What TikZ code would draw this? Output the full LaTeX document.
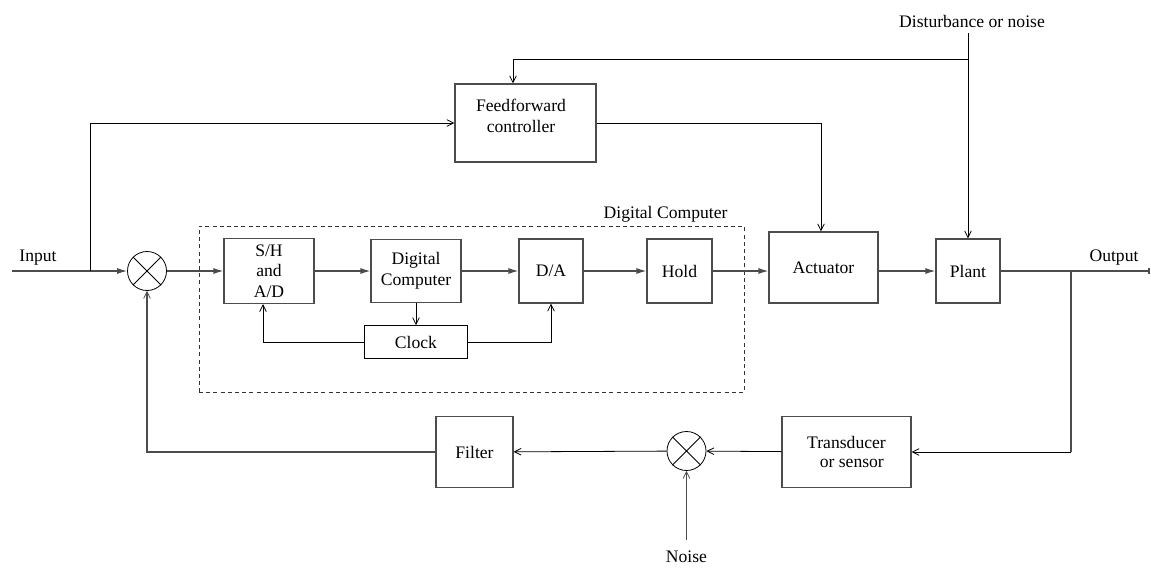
\documentclass[tikz,border=0pt]{standalone}
\usepackage{fontspec}
\setmainfont{Liberation Serif}[Ligatures=TeX]
\newfontfamily\timesfont{Liberation Serif}
\usetikzlibrary{arrows.meta,calc}
\begin{document}
\begin{tikzpicture}[x=0.75pt,y=-0.75pt,
  font=\timesfont\fontsize{13.2}{15.5}\selectfont,
  box/.style={draw=black!70,line width=0.9pt,align=center,inner sep=0pt},
  thinbox/.style={draw=black,line width=0.6pt,align=center,inner sep=0pt},
  main/.style={draw=black!70,line width=0.9pt},
  thin/.style={draw=black,line width=0.6pt},
  fa/.style={-{Latex[length=7.5pt,width=4.5pt]}},
  oa/.style={-{Straight Barb[length=5pt,width=5pt,line width=0.6pt]}},
  sumnode/.style={circle,draw=black,line width=0.6pt,minimum size=39*0.75pt,inner sep=0pt},
  lbl/.style={inner sep=1pt},
]
\useasboundingbox (0,0) rectangle (1151,568);

% dashed digital computer region
\node[draw=black!80,line width=0.7pt,dash pattern=on 3pt off 2.4pt,minimum width=545*0.75pt,minimum height=166*0.75pt,inner sep=0pt] (dcbox) at (471.5,309) {};
\node[lbl,anchor=east] (dclab) at (729,214) {Digital Computer};

% blocks
\node[box,minimum width=90*0.75pt,minimum height=65*0.75pt] (sh) at (269,271) {S/H\\and\\A/D};
\node[box,minimum width=90*0.75pt,minimum height=63*0.75pt] (dc) at (416,271) {Digital\\Computer};
\node[box,minimum width=64*0.75pt,minimum height=64*0.75pt] (da) at (551,271) {D/A};
\node[box,minimum width=65*0.75pt,minimum height=64*0.75pt] (hold) at (679.5,271) {Hold};
\node[thinbox,minimum width=103*0.75pt,minimum height=33*0.75pt] (clock) at (416,342) {Clock};
\node[box,minimum width=109*0.75pt,minimum height=71*0.75pt] (act) at (823.5,267.5) {Actuator};
\node[box,minimum width=64*0.75pt,minimum height=64*0.75pt] (plant) at (968,271) {Plant};
\node[box,minimum width=141*0.75pt,minimum height=78*0.75pt] (ff) at (525.5,123) {};
\node[lbl,align=center] (fft) at (521,116) {Feedforward\\controller};
\node[box,minimum width=77*0.75pt,minimum height=71*0.75pt] (filt) at (474.5,452) {Filter};
\node[box,minimum width=129*0.75pt,minimum height=71*0.75pt] (trans) at (846.5,452) {Transducer\\[-1pt]\hspace*{8pt}or sensor};

% summing junctions
\node[sumnode] (s1) at (147,271) {};
\draw[thin] (s1.north west) -- (s1.south east) (s1.north east) -- (s1.south west);
\node[sumnode] (s2) at (686.5,451) {};
\draw[thin] (s2.north west) -- (s2.south east) (s2.north east) -- (s2.south west);

% text labels
\node[lbl] (in) at (38,258) {Input};
\node[lbl] (dist) at (972,21) {Disturbance or noise};
\node[lbl] (out) at (1114,258) {Output};
\node[lbl] (noise) at (686.5,557) {Noise};

% helper coordinates
\coordinate (inS) at (12,271);
\coordinate (br) at (90,271);
\coordinate (dtop) at (968,33);
\coordinate (dj) at (968,59);
\coordinate (oj) at (1071,271);
\coordinate (oend) at (1150,271);
\coordinate (ns) at (686.5,540);

% forward path
\draw[main,fa] (inS) -- (s1);
\draw[main,fa] (s1) -- (sh);
\draw[main,fa] (sh) -- (dc);
\draw[main,fa] (dc) -- (da);
\draw[main,fa] (da) -- (hold);
\draw[main,fa] (hold) -- (hold -| act.west);
\draw[main,fa] (act.east |- hold) -- (plant);
\draw[main,-{Bar[width=4pt,line width=1.2pt]}] (plant) -- (oend);

% feedforward
\draw[thin,oa] (br) |- (ff.west);
\draw[thin] (dtop) -- (dj);
\draw[thin,oa] (dj) -| ($(ff.north)+(-12.5,0)$);
\draw[thin,oa] (dj) -- (plant.north);
\draw[thin,oa] (ff.east) -| ($(act.north)+(-2.5,0)$);

% clock
\draw[thin,oa] (dc) -- (clock);
\draw[thin,oa] (clock.east) -| (da.south);
\draw[thin,oa] (clock.west) -| ($(sh.south)+(-6,0)$);

% feedback
\draw[main] (oj) -- (oj |- trans.east);
\draw[thin,oa] (oj |- trans.east) -- (trans.east);
\draw[thin,oa] (trans) -- (s2);
\draw[thin,oa] (s2) -- (filt);
\draw[main,oa] (ns) -- (s2);
\draw[main,oa] (filt.west) -| (s1.south);
\end{tikzpicture}
\end{document}
